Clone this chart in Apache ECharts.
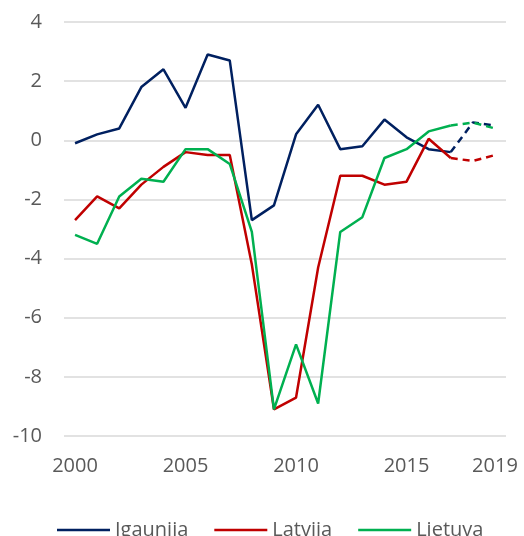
<!DOCTYPE html>
<html>
<head>
<meta charset="utf-8">
<script src="https://cdn.jsdelivr.net/npm/echarts@6/dist/echarts.min.js"></script>
<style>
  html, body { margin: 0; padding: 0; background: #fff; }
  #chart { width: 524px; height: 536px; }
</style>
</head>
<body>
<div id="chart"></div>
<script>
// gadi
const years = ['2000', '2001', '2002', '2003', '2004', '2005', '2006', '2007', '2008', '2009',
    '2010', '2011', '2012', '2013', '2014', '2015', '2016', '2017', '2018', '2019'];
const igaunija = [-0.1, 0.2, 0.4, 1.8, 2.4, 1.1, 2.9, 2.7, -2.7, -2.2,
    0.2, 1.2, -0.3, -0.2, 0.7, 0.1, -0.3, -0.4, 0.6, 0.5];
const latvija = [-2.7, -1.9, -2.3, -1.5, -0.9, -0.4, -0.5, -0.5, -4.2, -9.1,
    -8.7, -4.3, -1.2, -1.2, -1.5, -1.4, 0.05, -0.6, -0.7, -0.5];
const lietuva = [-3.2, -3.5, -1.9, -1.3, -1.4, -0.3, -0.3, -0.8, -3.1, -9.1,
    -6.9, -8.9, -3.1, -2.6, -0.6, -0.3, 0.3, 0.5, 0.6, 0.4];
const shownLabels = ['2000', '2005', '2010', '2015', '2019'];
const forecastFrom = 17; // no 2017 prognoze (raustīta līnija)

const countries = [
    { name: 'Igaunija', data: igaunija, color: '#002060' },
    { name: 'Latvija', data: latvija, color: '#C00000' },
    { name: 'Lietuva', data: lietuva, color: '#00B050' }
];

const fontFamily = '"Open Sans", "Liberation Sans", sans-serif';

function getSeries() {
    let seriesArr = [];
    countries.forEach((c) => {
        // faktiskie dati
        seriesArr.push({
            name: c.name,
            type: 'line',
            data: c.data.map((v, i) => (i <= forecastFrom ? v : null)),
            symbol: 'none',
            color: c.color,
            lineStyle: { width: 2.5, color: c.color },
            z: 3
        });
        // prognoze
        seriesArr.push({
            name: c.name + ' prognoze',
            type: 'line',
            data: c.data.map((v, i) => (i >= forecastFrom ? v : null)),
            symbol: 'none',
            color: c.color,
            lineStyle: { width: 2.5, color: c.color, type: [7, 5] },
            z: 2
        });
    });
    return seriesArr;
}

const myChart = echarts.init(document.getElementById('chart'), null, { renderer: 'canvas' });
myChart.setOption({
    animation: false,
    backgroundColor: '#fff',
    grid: {
        left: 64,
        right: 18,
        top: 22,
        bottom: 100
    },
    legend: {
        data: countries.map((c) => c.name),
        left: 52,
        top: 515,
        icon: 'rect',
        itemWidth: 53,
        itemHeight: 2.5,
        itemGap: 26,
        textStyle: {
            color: '#595959',
            fontSize: 20,
            fontFamily: fontFamily
        }
    },
    xAxis: {
        type: 'category',
        data: years,
        boundaryGap: true,
        axisLine: { show: false },
        axisTick: { show: false },
        axisLabel: {
            color: '#595959',
            fontSize: 20,
            fontFamily: fontFamily,
            margin: 20,
            interval: (index, value) => shownLabels.includes(value)
        }
    },
    yAxis: {
        type: 'value',
        min: -10,
        max: 4,
        interval: 2,
        axisLine: { show: false },
        axisTick: { show: false },
        axisLabel: {
            color: '#595959',
            fontSize: 20,
            fontFamily: fontFamily,
            margin: 22
        },
        splitLine: {
            lineStyle: { color: '#D9D9D9', width: 1.5 }
        }
    },
    series: getSeries()
});
</script>
</body>
</html>
